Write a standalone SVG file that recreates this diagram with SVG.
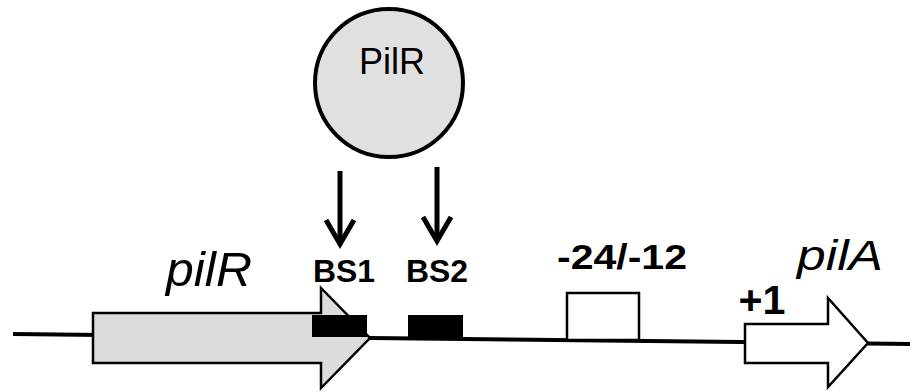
<svg xmlns="http://www.w3.org/2000/svg" width="910" height="392" viewBox="0 0 910 392">
  <style>
    .dna { stroke: #000; stroke-width: 4; fill: none; }
    .gene { stroke: #000; stroke-width: 2.5; stroke-linejoin: miter; }
    .site { fill: #000; }
    .box { fill: #fff; stroke: #000; stroke-width: 2.5; }
    .lbl { font-family: "Liberation Sans", Arial, sans-serif; fill: #000; }
    .bold { font-weight: bold; }
    .ital { font-style: italic; }
    .bind { stroke: #000; stroke-width: 5; fill: none; }
  </style>
  <defs>
    <marker id="chevron" markerUnits="userSpaceOnUse" markerWidth="34" markerHeight="34"
            viewBox="0 0 34 34" refX="27" refY="17" orient="auto" overflow="visible">
      <path d="M3,3 L27,17 L3,31" fill="none" stroke="#000" stroke-width="5"/>
    </marker>
  </defs>

  <rect width="910" height="392" fill="#fff"/>

  <!-- DNA backbone -->
  <g id="dna">
    <line class="dna" x1="13" y1="334" x2="910" y2="344"/>
  </g>

  <!-- pilR gene -->
  <g id="gene-pilR">
    <polygon class="gene" fill="#dcdcdc"
             points="93,313 321,313 321,288 370,338 321,388 321,363 93,363"/>
    <text class="lbl ital" x="209" y="286" font-size="48" text-anchor="middle" textLength="86" lengthAdjust="spacingAndGlyphs">pilR</text>
  </g>

  <!-- binding site 1 -->
  <g id="site-BS1">
    <rect class="site" x="312" y="315" width="55" height="22"/>
    <text class="lbl bold" x="344" y="282" font-size="32" text-anchor="middle" textLength="62" lengthAdjust="spacingAndGlyphs">BS1</text>
  </g>

  <!-- binding site 2 -->
  <g id="site-BS2">
    <rect class="site" x="408" y="315" width="55" height="23"/>
    <text class="lbl bold" x="437" y="282" font-size="32" text-anchor="middle" textLength="62" lengthAdjust="spacingAndGlyphs">BS2</text>
  </g>

  <!-- -24/-12 promoter element -->
  <g id="promoter">
    <rect class="box" x="567" y="293" width="72" height="47"/>
    <text class="lbl bold" x="622" y="269" font-size="35" text-anchor="middle" textLength="130" lengthAdjust="spacingAndGlyphs">-24/-12</text>
  </g>

  <!-- pilA gene -->
  <g id="gene-pilA">
    <polygon class="gene" fill="#fff"
             points="745,324 828,324 828,298 868,343 828,387 828,363 745,363"/>
    <text class="lbl bold" x="762" y="314" font-size="40" text-anchor="middle" textLength="47" lengthAdjust="spacingAndGlyphs">+1</text>
    <text class="lbl ital" x="840" y="270" font-size="42" text-anchor="middle" textLength="86" lengthAdjust="spacingAndGlyphs">pilA</text>
  </g>

  <!-- PilR regulator protein -->
  <g id="protein-PilR">
    <circle cx="389" cy="83" r="74" fill="#e0e0e0" stroke="#000" stroke-width="4"/>
    <text class="lbl" x="392" y="74" font-size="36" text-anchor="middle">PilR</text>
  </g>

  <!-- binding arrows -->
  <g id="connectors">
    <line class="bind" x1="340" y1="171" x2="340" y2="244" marker-end="url(#chevron)"/>
    <line class="bind" x1="437" y1="167" x2="437" y2="241" marker-end="url(#chevron)"/>
  </g>
</svg>
